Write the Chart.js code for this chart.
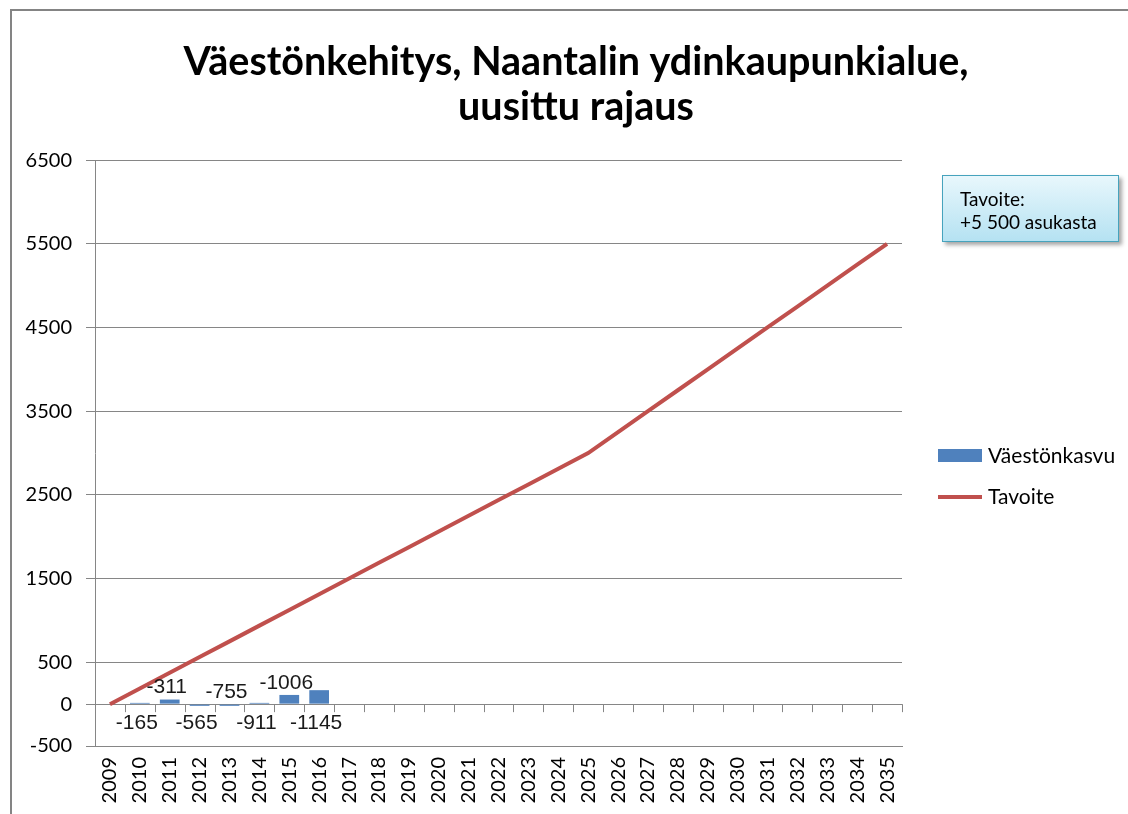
<!DOCTYPE html>
<html lang="fi">
<head>
    <meta charset="UTF-8">
    <title>Väestönkehitys, Naantalin ydinkaupunkialue</title>
    <script src="https://cdn.jsdelivr.net/npm/chart.js"></script>
    <style>
        body {
            margin: 0;
            background: #fff;
            font-family: 'Lato', sans-serif;
        }
        .wrap {
            position: relative;
            width: 1128px;
            height: 814px;
            overflow: hidden;
        }
        .frame {
            position: absolute;
            left: 10px;
            top: 9px;
            width: 1200px;
            height: 900px;
            border-left: 2px solid #848484;
            border-top: 2px solid #848484;
        }
        canvas {
            position: absolute;
            left: 0;
            top: 0;
        }
        .legend {
            position: absolute;
            left: 938px;
            font-size: 21px;
            color: #000;
        }
        .legend .item {
            position: absolute;
            left: 0;
            white-space: nowrap;
            height: 24px;
            line-height: 24px;
        }
        .legend .swatch {
            position: absolute;
            left: 0;
        }
        .legend .text {
            position: absolute;
            left: 50px;
            top: 0;
        }
        .note {
            position: absolute;
            left: 942px;
            top: 175px;
            width: 177px;
            height: 67px;
            border: 1px solid #46a3bd;
            background: linear-gradient(#e8f7fc, #b5e2f2);
            box-shadow: 3px 3px 4px rgba(0, 0, 0, 0.35);
            font-size: 19px;
            line-height: 23px;
            padding: 11px 0 0 17px;
            box-sizing: border-box;
            color: #000;
        }
    </style>
</head>
<body>
<div class="wrap">
    <div class="frame"></div>
    <canvas id="chart" width="1128" height="814"></canvas>

    <div class="note">Tavoite:<br>+5 500 asukasta</div>

    <div class="legend">
        <div class="item" style="top:443px">
            <div class="swatch" style="top:6px;width:44px;height:13px;background:#4f81bd"></div>
            <span class="text">Väestönkasvu</span>
        </div>
        <div class="item" style="top:484px">
            <div class="swatch" style="top:11px;width:44px;height:4px;background:#c0504d"></div>
            <span class="text">Tavoite</span>
        </div>
    </div>
</div>

<script>
    // Years on the x axis
    const years = ['2009', '2010', '2011', '2012', '2013', '2014', '2015', '2016', '2017',
        '2018', '2019', '2020', '2021', '2022', '2023', '2024', '2025', '2026', '2027',
        '2028', '2029', '2030', '2031', '2032', '2033', '2034', '2035'];

    // Actual population growth (bars), only up to 2016
    const growth = [0, 15, 55, -20, -20, 15, 110, 167, null, null, null, null, null, null,
        null, null, null, null, null, null, null, null, null, null, null, null, null];

    // Labels shown next to the bars
    const growthLabels = ['', '-165', '-311', '-565', '-755', '-911', '-1006', '-1145'];
    const labelAbove = [false, false, true, false, true, false, true, false];

    // Target line
    const target = [0, 188, 375, 563, 750, 938, 1125, 1313, 1500, 1688, 1875, 2063, 2250,
        2438, 2625, 2813, 3000, 3250, 3500, 3750, 4000, 4250, 4500, 4750, 5000, 5250, 5500];

    // Y axis tick values
    const yTicks = [-500, 0, 500, 1500, 2500, 3500, 4500, 5500, 6500];

    const gridColor = '#868686';

    // Small tick marks on the zero line, between categories
    const zeroTicks = {
        id: 'zeroTicks',
        beforeDatasetsDraw(chart) {
            const { ctx, scales: { x, y } } = chart;
            const y0 = y.getPixelForValue(0);
            const step = x.getPixelForValue(1) - x.getPixelForValue(0);
            ctx.save();
            ctx.strokeStyle = gridColor;
            ctx.lineWidth = 1;
            ctx.beginPath();
            for (let i = 0; i <= years.length; i++) {
                const px = Math.round(x.getPixelForValue(0) - step / 2 + i * step) + 0.5;
                ctx.moveTo(px, y0);
                ctx.lineTo(px, y0 + 8);
            }
            ctx.stroke();
            ctx.restore();
        }
    };

    // Text labels at the bars
    const barLabels = {
        id: 'barLabels',
        afterDatasetsDraw(chart) {
            const { ctx, scales: { y } } = chart;
            const meta = chart.getDatasetMeta(1);
            const y0 = y.getPixelForValue(0);
            ctx.save();
            ctx.font = '21px "Liberation Sans", Arial, sans-serif';
            ctx.fillStyle = '#1a1a1a';
            ctx.textAlign = 'center';
            ctx.textBaseline = 'middle';
            growthLabels.forEach((txt, i) => {
                if (!txt) return;
                const bar = meta.data[i];
                const top = Math.min(y0, bar.y);
                const py = labelAbove[i] ? top - 12 : y0 + 19;
                ctx.fillText(txt, bar.x - 3, py);
            });
            ctx.restore();
        }
    };

    new Chart(document.getElementById('chart'), {
        type: 'bar',
        data: {
            labels: years,
            datasets: [
                {
                    type: 'line',
                    label: 'Tavoite',
                    data: target,
                    borderColor: '#c0504d',
                    borderWidth: 4,
                    pointRadius: 0,
                    tension: 0,
                    order: 1
                },
                {
                    type: 'bar',
                    label: 'Väestönkasvu',
                    data: growth,
                    backgroundColor: '#4f81bd',
                    categoryPercentage: 1,
                    barPercentage: 0.66,
                    order: 2
                }
            ]
        },
        options: {
            responsive: false,
            animation: false,
            layout: { padding: { left: 24, top: 0, right: 0, bottom: 0 } },
            plugins: {
                legend: { display: false },
                tooltip: { enabled: false },
                title: {
                    display: true,
                    text: ['Väestönkehitys, Naantalin ydinkaupunkialue,', 'uusittu rajaus'],
                    color: '#000',
                    font: { family: 'Lato', size: 39.5, weight: 'bold', lineHeight: 1.14 },
                    padding: { top: 40, bottom: 30 }
                }
            },
            scales: {
                x: {
                    grid: { display: false, drawTicks: false },
                    border: { display: true, color: gridColor },
                    ticks: {
                        color: '#000',
                        font: { family: 'Lato', size: 20 },
                        maxRotation: 90,
                        minRotation: 90,
                        autoSkip: false,
                        padding: 11
                    },
                    afterFit(s) { s.height = 68; }
                },
                y: {
                    min: -500,
                    max: 6500,
                    afterBuildTicks(s) { s.ticks = yTicks.map(v => ({ value: v })); },
                    grid: { color: gridColor, tickLength: 9 },
                    border: { display: true, color: gridColor },
                    ticks: {
                        color: '#000',
                        font: { family: 'Lato', size: 20 },
                        padding: 14,
                        callback: v => String(v)
                    },
                    afterFit(s) { s.width = 71; }
                },
                spacer: {
                    type: 'linear',
                    position: 'right',
                    grid: { display: false, drawTicks: false },
                    border: { display: false },
                    ticks: { display: false },
                    afterFit(s) { s.width = 226; }
                }
            }
        },
        plugins: [zeroTicks, barLabels]
    });
</script>
</body>
</html>
